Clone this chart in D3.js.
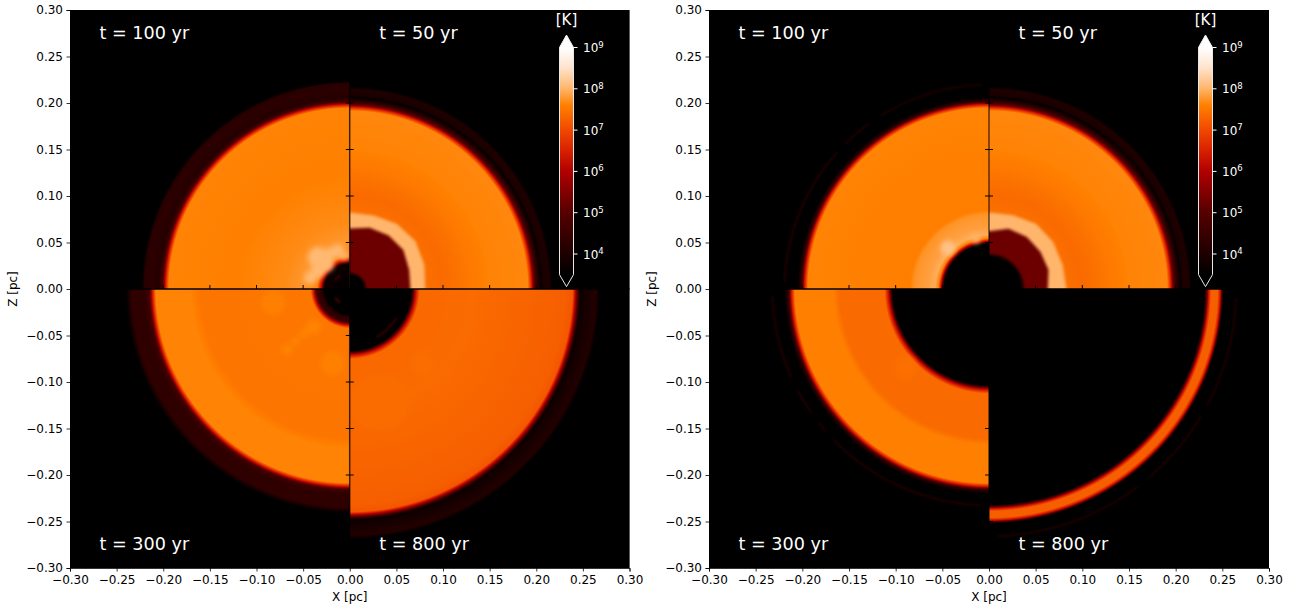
<!DOCTYPE html>
<html>
<head>
<meta charset="utf-8">
<script src="https://cdnjs.cloudflare.com/ajax/libs/d3/7.8.5/d3.min.js"></script>
<style>
  html, body { margin: 0; background: white; }
  svg { display: block; }
  text { font-family: "DejaVu Sans", sans-serif; }
</style>
</head>
<body>
<svg width="1299" height="606"></svg>
<script>
// tick values and labels
var axisTicks = [-0.30, -0.25, -0.20, -0.15, -0.10, -0.05, 0, 0.05, 0.10, 0.15, 0.20, 0.25, 0.30];
var innerTicks = [-0.25, -0.20, -0.15, -0.10, -0.05, 0.05, 0.10, 0.15, 0.20, 0.25];
var barTicks = [4, 5, 6, 7, 8, 9];
var quadrantNames = ["ul", "ur", "ll", "lr"];
var timeLabels = ["t = 100 yr", "t = 50 yr", "t = 300 yr", "t = 800 yr"];

// colour bar: log10 T -> colour
var colorLogT = [3.5, 4, 5, 6, 6.5, 7, 7.6, 8, 8.5, 9];
var colorHex = ["#000000", "#1e0000", "#550000", "#b00000", "#d82000", "#f04800", "#ff8000", "#ffb468", "#ffe2cc", "#ffffff"];

// radial profiles [r in pc, log10 T], one per quadrant
var leftProfileUL = [[0,3.5],[.027,3.7],[.03,6],[.035,7.65],[.05,7.78],[.07,7.68],[.12,7.6],[.194,7.62],[.198,6.2],[.201,4.7],[.205,4.1],[.212,4.25],[.22,4.2],[.223,3.5]];
var leftProfileUR = [[0,7.6],[.085,7.42],[.1,7.36],[.125,7.5],[.15,7.62],[.191,7.65],[.195,6.4],[.198,5],[.202,4.1],[.205,3.6],[.208,3.95],[.214,4.0],[.217,3.5]];
var leftProfileLL = [[0,3.5],[.027,3.5],[.03,4.2],[.035,4.5],[.038,6],[.042,7.5],[.16,7.48],[.17,7.62],[.208,7.62],[.212,6.2],[.215,4.7],[.22,4.3],[.234,4.3],[.24,3.5]];
var leftProfileLR = [[0,3.5],[.066,3.5],[.07,6],[.075,7.35],[.095,7.35],[.13,7.38],[.23,7.25],[.239,7.15],[.243,5.6],[.247,3.7],[.25,3.8],[.258,3.95],[.264,4.1],[.268,3.5]];
var rightProfileUL = [[0,3.5],[.048,3.5],[.051,6],[.054,7.6],[.058,7.95],[.065,7.85],[.08,7.75],[.085,7.58],[.194,7.62],[.198,6.2],[.201,4.4],[.205,3.5]];
var rightProfileUR = [[0,7.6],[.085,7.42],[.1,7.36],[.125,7.5],[.15,7.62],[.191,7.65],[.195,6.4],[.198,5],[.202,4.1],[.205,3.6],[.208,3.95],[.214,4.0],[.217,3.5]];
var rightProfileLL = [[0,3.5],[.103,3.5],[.107,6],[.112,7.37],[.16,7.37],[.167,7.6],[.208,7.6],[.212,6.2],[.215,4.4],[.219,3.5]];
var rightProfileLR = [[0,3.5],[.231,3.5],[.235,6.2],[.238,7.25],[.245,7.25],[.248,6.2],[.251,3.5]];

// thin arcs [r in pc, from deg, to deg, log10 T], degrees clockwise from +Z
var leftArcsUL = [[.018,-60,-35,4.6]];
var leftArcsUR = [];
var leftArcsLL = [[.018,-145,-120,4.8]];
var leftArcsLR = [[.059,122,151,4.4]];
var rightArcsUL = [[.219,-88,-48,4.05],[.219,-45,-36,4.05],[.219,-32,-2,4.05]];
var rightArcsUR = [];
var rightArcsLL = [[.232,-178,-134,4.05],[.232,-131,-128,4.05],[.232,-125,-118,4.05],[.232,-114,-92,4.05]];
var rightArcsLR = [[.265,92,118,4.0],[.265,121,140,4.0],[.265,143,178,4.0]];

// bumpy hot shell and dark cavity in the t = 50 yr quadrant
var shellAngles = [0, 18, 36, 54, 72, 90];
var leftPeach = [.082, .083, .086, .087, .084, .081];
var leftCavity = [.065, .069, .071, .071, .067, .065];
var rightPeach = [.082, .083, .086, .085, .083, .083];
var rightCavity = [.062, .068, .069, .068, .067, .063];
var peachLogT = 8.02;
var cavityLogT = 5.25;
var leftCoreR = 0.017;
var rightCoreR = 0.037;

// hot clumps [x pc, z pc, radius pc, log10 T]
var leftClumpsUL = [[-.034,.034,.011,8.05],[-.026,.027,.009,8.05],[-.013,.041,.007,8.05],[-.022,.037,.007,8.05],[-.042,.012,.007,8.05],[-.034,.02,.008,8.05],[-.006,.036,.005,8.0]];
var leftClumpsLL = [[-.067,-.065,.006,7.62],[-.058,-.056,.005,7.62],[-.049,-.048,.005,7.62],[-.039,-.041,.008,7.62],[-.018,-.08,.013,7.6],[-.082,-.015,.013,7.6]];
var leftClumpsLR = [[.033,-.122,.03,7.39],[.078,-.08,.012,7.4]];
var rightClumpsUL = [[-.044,.044,.008,8.15],[-.014,.054,.005,8.0]];
var rightClumpsLL = [[-.09,-.085,.012,7.42]];

var leftProfiles = [leftProfileUL, leftProfileUR, leftProfileLL, leftProfileLR];
var rightProfiles = [rightProfileUL, rightProfileUR, rightProfileLL, rightProfileLR];
var leftArcs = [leftArcsUL, leftArcsUR, leftArcsLL, leftArcsLR];
var rightArcs = [rightArcsUL, rightArcsUR, rightArcsLL, rightArcsLR];
var leftClumps = [leftClumpsUL, [], leftClumpsLL, leftClumpsLR];
var rightClumps = [rightClumpsUL, [], rightClumpsLL, []];

var color = d3.scaleLinear().domain(colorLogT).range(colorHex).clamp(true);
var svg = d3.select("svg");
var defs = svg.append("defs");

function addBlur(id, sd) {
  defs.append("filter").attr("id", id)
    .attr("filterUnits", "userSpaceOnUse").attr("x", -1300).attr("y", -700).attr("width", 2600).attr("height", 1400)
    .append("feGaussianBlur").attr("stdDeviation", sd);
}
addBlur("soft", 1.5);
addBlur("softer", 2.6);
addBlur("arcsoft", 0.8);

// the browser blends stops in rgb, so cut each profile step finer in log T
function profileStops(profile, rMax) {
  var stops = [];
  for (var i = 0; i < profile.length - 1; i++) {
    for (var k = 0; k < 6; k++) {
      var f = k / 6;
      stops.push({
        offset: (profile[i][0] + f * (profile[i + 1][0] - profile[i][0])) / rMax,
        c: color(profile[i][1] + f * (profile[i + 1][1] - profile[i][1]))
      });
    }
  }
  var last = profile[profile.length - 1];
  stops.push({ offset: last[0] / rMax, c: color(last[1]) });
  return stops;
}

function drawPanel(name, left, width, profiles, arcs, clumps, peach, cavity, coreR) {
  var x = d3.scaleLinear().domain([-0.3, 0.3]).range([left, left + width]);
  var y = d3.scaleLinear().domain([-0.3, 0.3]).range([568, 10]);
  var rpx = function(r) { return x(r) - x(0); };
  var g = svg.append("g");
  var rMax = 0.43;

  g.append("rect").attr("x", x(-0.3)).attr("y", y(0.3))
    .attr("width", x(0.3) - x(-0.3)).attr("height", y(-0.3) - y(0.3)).attr("fill", "black");

  quadrantNames.forEach(function(q, i) {
    var isLeft = i % 2 == 0;
    var isTop = i < 2;
    var qx = isLeft ? x(-0.3) : x(0);
    var qy = isTop ? y(0.3) : y(0);
    var qw = rpx(0.3);
    var qh = y(0) - y(0.3);
    var id = name + "-" + q;

    var grad = defs.append("radialGradient").attr("id", "grad-" + id)
      .attr("gradientUnits", "userSpaceOnUse")
      .attr("cx", x(0)).attr("cy", y(0)).attr("r", rpx(rMax));
    grad.selectAll("stop").data(profileStops(profiles[i], rMax)).enter().append("stop")
      .attr("offset", function(d) { return d.offset; })
      .attr("stop-color", function(d) { return d.c; });

    defs.append("clipPath").attr("id", "clip-" + id).append("rect")
      .attr("x", qx).attr("y", qy).attr("width", qw).attr("height", qh);

    var qg = g.append("g").attr("clip-path", "url(#clip-" + id + ")");
    qg.append("rect").attr("x", qx).attr("y", qy).attr("width", qw).attr("height", qh)
      .attr("fill", "url(#grad-" + id + ")");

    // thin broken shells
    var arc = d3.arc();
    qg.append("g").attr("transform", "translate(" + x(0) + "," + y(0) + ")")
      .attr("filter", "url(#arcsoft)")
      .selectAll("path").data(arcs[i]).enter().append("path")
      .attr("d", function(d) {
        return arc({
          innerRadius: rpx(d[0]) - 1.1,
          outerRadius: rpx(d[0]) + 1.1,
          startAngle: d[1] * Math.PI / 180,
          endAngle: d[2] * Math.PI / 180
        });
      })
      .attr("fill", function(d) { return color(d[3]); });

    // clumps
    qg.append("g").attr("filter", "url(#softer)")
      .selectAll("circle").data(clumps[i]).enter().append("circle")
      .attr("cx", function(d) { return x(d[0]); })
      .attr("cy", function(d) { return y(d[1]); })
      .attr("r", function(d) { return rpx(d[2]); })
      .attr("fill", function(d) { return color(d[3]); });

    // hot shell and cavity only in the t = 50 yr quadrant
    if (q == "ur") {
      var shellLine = function(radii) {
        var pts = [[0, 0]].concat(shellAngles.map(function(a, k) { return [a, radii[k]]; }));
        pts.splice(1, 0, [-8, radii[0]]);
        pts.push([98, radii[radii.length - 1]]);
        return d3.lineRadial()
          .angle(function(d) { return d[0] * Math.PI / 180; })
          .radius(function(d) { return rpx(d[1]); })
          .curve(d3.curveLinearClosed)(pts);
      };
      var sg = qg.append("g").attr("transform", "translate(" + x(0) + "," + y(0) + ")");
      sg.append("path").attr("d", shellLine(peach)).attr("fill", color(peachLogT)).attr("filter", "url(#soft)");
      sg.append("path").attr("d", shellLine(cavity)).attr("fill", color(cavityLogT)).attr("filter", "url(#soft)");
      sg.append("circle").attr("r", rpx(coreR)).attr("fill", "black").attr("filter", "url(#soft)");
    }
  });

  // centre spines and their ticks
  var zeroV = g.append("g").attr("transform", "translate(" + x(0) + ",0)").attr("stroke", "black");
  zeroV.append("line").attr("y1", y(0.3)).attr("y2", y(-0.3)).attr("stroke-width", 1.6).attr("stroke-opacity", 0.6);
  zeroV.selectAll("line.tick").data(innerTicks).enter().append("line").attr("class", "tick")
    .attr("x1", -4).attr("x2", 4)
    .attr("y1", function(d) { return y(d); }).attr("y2", function(d) { return y(d); })
    .attr("stroke-width", 1);

  var zeroH = g.append("g").attr("transform", "translate(0," + y(0) + ")").attr("stroke", "black");
  zeroH.append("line").attr("x1", x(-0.3)).attr("x2", x(0.3)).attr("stroke-width", 1.4);
  zeroH.selectAll("line.tick").data(innerTicks).enter().append("line").attr("class", "tick")
    .attr("y1", -4).attr("y2", 0)
    .attr("x1", function(d) { return x(d); }).attr("x2", function(d) { return x(d); })
    .attr("stroke-width", 1);

  // outer axes
  var fmt = function(d) { return d3.format(".2f")(Math.abs(d) < 1e-9 ? 0 : d); };
  var xAxis = d3.axisBottom(x).tickValues(axisTicks).tickFormat(fmt).tickSize(3.5).tickPadding(3.5);
  var yAxis = d3.axisLeft(y).tickValues(axisTicks).tickFormat(fmt).tickSize(3.5).tickPadding(3.5);
  [g.append("g").attr("transform", "translate(0," + y(-0.3) + ")").call(xAxis),
   g.append("g").attr("transform", "translate(" + x(-0.3) + ",0)").call(yAxis)].forEach(function(a) {
    a.select(".domain").attr("stroke-width", 0.8);
    a.selectAll(".tick line").attr("stroke-width", 0.8);
    a.selectAll("text").attr("font-size", 12).attr("font-family", "DejaVu Sans").attr("fill", "black");
  });

  g.append("text").attr("x", x(0)).attr("y", 601).attr("text-anchor", "middle").attr("font-size", 12).text("X [pc]");
  g.append("text").attr("transform", "translate(" + (left - 53) + "," + y(0) + ") rotate(-90)")
    .attr("text-anchor", "middle").attr("font-size", 12).text("Z [pc]");

  // time labels
  var labelAt = [[-0.27, 0.27], [0.03, 0.27], [-0.27, -0.28], [0.03, -0.28]];
  timeLabels.forEach(function(t, i) {
    g.append("text").attr("x", x(labelAt[i][0]) + 1.5).attr("y", y(labelAt[i][1]) + 1)
      .attr("font-size", 17.6).attr("fill", "white").text(t);
  });

  // colour bar
  var barY = d3.scaleLinear().domain([4, 9]).range([254, 47.5]);
  var bx0 = left + 489.5, bx1 = left + 503.5;
  var barBottom = barY(3.5);
  var cid = "bar-" + name;
  var cg = defs.append("linearGradient").attr("id", cid).attr("gradientUnits", "userSpaceOnUse")
    .attr("x1", 0).attr("x2", 0).attr("y1", barY(3.5)).attr("y2", barY(9));
  cg.selectAll("stop").data(d3.range(3.5, 9.01, 0.1)).enter().append("stop")
    .attr("offset", function(d) { return (d - 3.5) / 5.5; })
    .attr("stop-color", function(d) { return color(d); });
  var outline = "M" + bx0 + "," + barY(9) + " L" + (bx0 + bx1) / 2 + "," + (barY(9) - 12.5) + " L" + bx1 + "," + barY(9)
    + " L" + bx1 + "," + barBottom + " L" + (bx0 + bx1) / 2 + "," + (barBottom + 12) + " L" + bx0 + "," + barBottom + " Z";
  g.append("path").attr("d", outline).attr("fill", "url(#" + cid + ")");
  g.append("path").attr("d", "M" + bx0 + "," + barY(9) + " L" + (bx0 + bx1) / 2 + "," + (barY(9) - 12.5) + " L" + bx1 + "," + barY(9) + " Z").attr("fill", "white");
  g.append("path").attr("d", "M" + bx0 + "," + barBottom + " L" + (bx0 + bx1) / 2 + "," + (barBottom + 12) + " L" + bx1 + "," + barBottom + " Z").attr("fill", "black");
  g.append("path").attr("d", outline).attr("fill", "none").attr("stroke", "#e8e8e8").attr("stroke-width", 1);
  var bt = g.append("g").selectAll("g").data(barTicks).enter().append("g")
    .attr("transform", function(d) { return "translate(" + bx1 + "," + barY(d) + ")"; });
  bt.append("line").attr("x2", 4).attr("stroke", "white").attr("stroke-width", 1);
  var label = bt.append("text").attr("x", 9.5).attr("y", 4.5).attr("font-size", 12).attr("fill", "white");
  label.append("tspan").text("10");
  label.append("tspan").attr("dy", -4.5).attr("font-size", 8.5).text(function(d) { return d; });
  g.append("text").attr("x", (bx0 + bx1) / 2).attr("y", 25).attr("text-anchor", "middle")
    .attr("font-size", 15).attr("fill", "white").text("[K]");
}

drawPanel("left", 70, 559.5, leftProfiles, leftArcs, leftClumps, leftPeach, leftCavity, leftCoreR);
drawPanel("right", 709, 560, rightProfiles, rightArcs, rightClumps, rightPeach, rightCavity, rightCoreR);
</script>
</body>
</html>
